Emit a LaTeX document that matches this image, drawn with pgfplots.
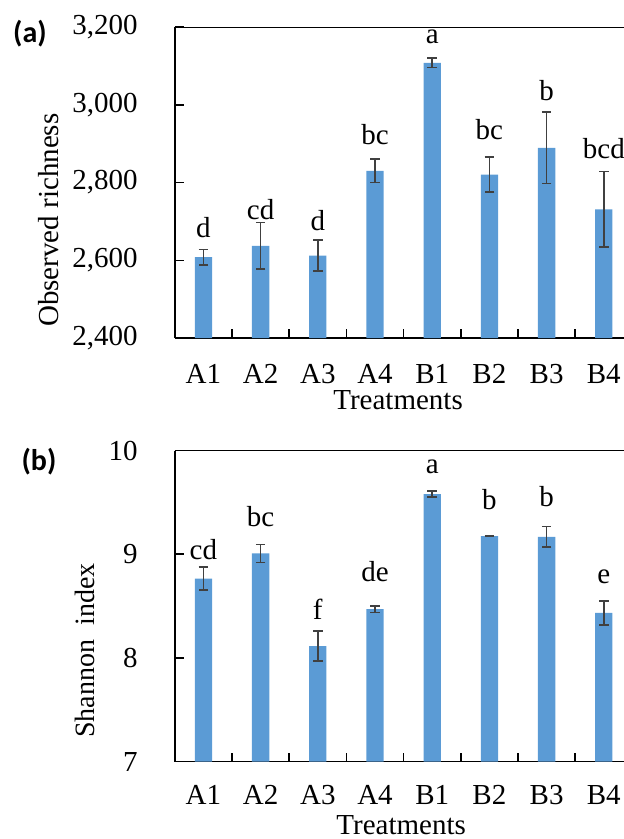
\documentclass[border=0pt]{standalone}
\usepackage{fontspec}
\setmainfont{Liberation Serif}
\newfontfamily\panelfont{Carlito}
\usepackage{pgfplots}
\usepackage{pgfplotstable}
\pgfplotsset{compat=1.18}
\definecolor{barblue}{HTML}{5B9BD5}
\definecolor{errgray}{HTML}{404040}

\pgfplotstableread{
x y e ly lab
0 2608 20 2657 d
1 2637 60 2704 cd
2 2612 40 2676 d
3 2830 30 2897 bc
4 3108 12 3155 a
5 2820 45 2910 bc
6 2889 92 3009 b
7 2731 97 2861 bcd
}\dataA

\pgfplotstableread{
x y e ly lab
0 8.765 0.110 8.942 cd
1 9.007 0.088 9.264 bc
2 8.114 0.145 8.362 f
3 8.469 0.030 8.732 de
4 9.580 0.030 9.773 a
5 9.174 0.005 9.425 b
6 9.167 0.100 9.457 b
7 8.433 0.115 8.710 e
}\dataB

\newcommand\txtfont{\fontsize{14.5}{17}\selectfont}

\pgfplotsset{
  panel/.style={
    scale only axis,
    width=224.6pt, height=155.5pt,
    anchor=south west,
    xmin=-0.5, xmax=7.353,
    axis x line*=bottom, axis y line*=left,
    axis line style={line width=0.75pt, black},
    tick align=inside,
    major tick length=4.5pt,
    tick style={line width=0.75pt, black},
    xtick={0.5,1.5,...,6.5},
    xticklabels={},
    extra x ticks={0,1,2,3,4,5,6,7},
    extra x tick labels={A1,A2,A3,A4,B1,B2,B3,B4},
    extra x tick style={major tick length=0pt},
    tick label style={font=\txtfont},
    /pgf/number format/assume math mode=true,
    yticklabel style={anchor=east, inner sep=0pt, xshift=-18.4pt},
    xlabel={Treatments},
  },
  bars/.style={
    ybar, bar width=8.65pt, fill=barblue, draw=none,
    error bars/.cd, y dir=both, y explicit,
    error bar style={line width=0.75pt, errgray},
    error mark options={rotate=90, mark size=2.4pt, line width=0.75pt, errgray},
  },
  letters/.style={
    draw=none, mark=none, nodes near coords, point meta=explicit symbolic,
    every node near coord/.append style={inner sep=0pt, font=\txtfont, text=black},
  },
}

\begin{document}
\begin{tikzpicture}

% Panel (a)
\begin{axis}[panel,
  at={(87.4pt,-169pt)},
  ymin=2400, ymax=3200,
  ytick={2400,2600,2800,3000,3200},
  scaled y ticks=false,
  yticklabel style={/pgf/number format/.cd, fixed, 1000 sep={,}},
  xticklabel style={anchor=base, inner sep=0pt, yshift=-22.8pt},
  ylabel={Observed richness},
  every axis y label/.style={at={(axis description cs:-0.282,0.379)}, rotate=90, anchor=center, font=\txtfont},
  every axis x label/.style={at={(axis description cs:0.497,0)}, anchor=base, inner sep=0pt, yshift=-35.5pt, font=\txtfont},
]
\addplot[bars] table[x=x, y=y, y error=e] {\dataA};
\addplot[letters] table[x=x, y=ly, meta=lab] {\dataA};
\draw[line width=0.75pt] (rel axis cs:0,1) -- (rel axis cs:1,1);
\end{axis}

% Panel (b)
\begin{axis}[panel,
  at={(87.4pt,-380.75pt)},
  ymin=7, ymax=10,
  ytick={7,8,9,10},
  xticklabel style={anchor=base, inner sep=0pt, yshift=-21.7pt},
  ylabel={Shannon\ \ index},
  every axis y label/.style={at={(axis description cs:-0.2,0.357)}, rotate=90, anchor=center, font=\fontsize{14}{16}\selectfont},
  every axis x label/.style={at={(axis description cs:0.504,0)}, anchor=base, inner sep=0pt, yshift=-36.6pt, font=\txtfont},
]
\addplot[bars] table[x=x, y=y, y error=e] {\dataB};
\addplot[letters] table[x=x, y=ly, meta=lab] {\dataB};
\draw[line width=0.75pt] (rel axis cs:0,1) -- (rel axis cs:1,1);
\end{axis}

\node[font=\panelfont\bfseries\fontsize{15}{17}\selectfont] at (15pt,-17pt) {(a)};
\node[font=\panelfont\bfseries\fontsize{15}{17}\selectfont] at (19.5pt,-231pt) {(b)};

\pgfresetboundingbox
\path[use as bounding box] (0pt,0pt) rectangle (312pt,-419.5pt);
\end{tikzpicture}
\end{document}
